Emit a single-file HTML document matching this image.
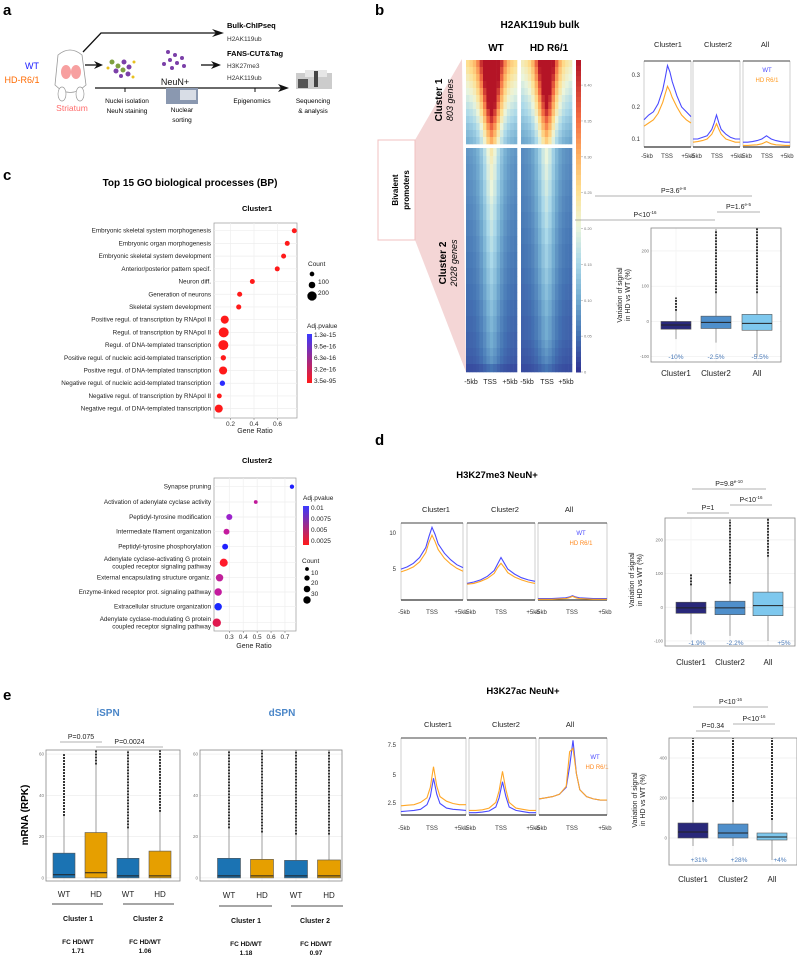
<!DOCTYPE html>
<html><head><meta charset="utf-8">
<style>
html,body{margin:0;padding:0;background:#fff;}
svg{display:block;font-family:"Liberation Sans",sans-serif;}
.pl{font-size:15px;font-weight:bold;}
.t7{font-size:7px;fill:#222;}
.go{font-size:6.3px;fill:#222;text-anchor:end;}
.tk{font-size:5px;fill:#666;}
</style></head>
<body>
<svg id="fig" width="797" height="958" viewBox="0 0 797 958">
<text class="pl" x="3" y="15">a</text>
<text class="pl" x="375" y="15">b</text>
<text class="pl" x="3" y="180">c</text>
<text class="pl" x="375" y="445">d</text>
<text class="pl" x="3" y="700">e</text>

<g>
<text x="32" y="69" font-size="9" fill="#1a1aff" text-anchor="middle">WT</text>
<text x="22" y="83" font-size="9" fill="#ff6a00" text-anchor="middle">HD-R6/1</text>
<g>
<path d="M58 55 Q70 45 82 55 L86 85 Q70 100 55 85 Z" fill="#fff" stroke="#999" stroke-width="0.8"/>
<ellipse cx="62" cy="94" rx="4" ry="7" fill="#fff" stroke="#999" stroke-width="0.7"/>
<ellipse cx="80" cy="94" rx="4" ry="7" fill="#fff" stroke="#999" stroke-width="0.7"/>
<ellipse cx="66" cy="72" rx="5" ry="7" fill="#f7a0a0"/>
<ellipse cx="76" cy="72" rx="5" ry="7" fill="#f7a0a0"/>
</g>
<text x="72" y="111" font-size="8.5" fill="#ff6b6b" text-anchor="middle">Striatum</text>
<polyline points="83,52 101,33 220,33" fill="none" stroke="#111" stroke-width="1.3"/>
<path d="M212,29 L224,33 L212,37 L216,33Z" fill="#111"/>
<line x1="85" y1="65" x2="98" y2="65" stroke="#111" stroke-width="1.3"/>
<path d="M94,61 L103,65 L94,69 L97,65Z" fill="#111"/>
<line x1="201" y1="65" x2="215" y2="65" stroke="#111" stroke-width="1.3"/>
<path d="M211,61 L221,65 L211,69 L214,65Z" fill="#111"/>
<line x1="95" y1="88" x2="282" y2="88" stroke="#111" stroke-width="1.2"/>
<path d="M278,84 L289,88 L278,92 L281,88Z" fill="#111"/>
<line x1="125" y1="88" x2="125" y2="92" stroke="#111"/><line x1="255" y1="88" x2="255" y2="92" stroke="#111"/>
<g>
<circle cx="112" cy="62" r="2.5" fill="#7fa040"/><circle cx="118" cy="66" r="2.5" fill="#7fa040"/><circle cx="124" cy="62" r="2.5" fill="#7b3fa8"/>
<circle cx="116" cy="71" r="2.5" fill="#7b3fa8"/><circle cx="123" cy="70" r="2.5" fill="#7fa040"/><circle cx="129" cy="67" r="2.5" fill="#7b3fa8"/>
<circle cx="128" cy="74" r="2.5" fill="#7b3fa8"/><circle cx="121" cy="76" r="2" fill="#7b3fa8"/><circle cx="108" cy="68" r="1.5" fill="#e8c020"/><circle cx="134" cy="62" r="1.5" fill="#e8c020"/><circle cx="133" cy="77" r="1.5" fill="#e8c020"/>
</g>
<g>
<circle cx="168" cy="52" r="2" fill="#7b3fa8"/><circle cx="175" cy="55" r="2" fill="#7b3fa8"/><circle cx="182" cy="58" r="2" fill="#7b3fa8"/><circle cx="170" cy="60" r="2" fill="#7b3fa8"/>
<circle cx="177" cy="63" r="2" fill="#7b3fa8"/><circle cx="184" cy="66" r="2" fill="#7b3fa8"/><circle cx="172" cy="68" r="2" fill="#7b3fa8"/><circle cx="164" cy="64" r="2" fill="#7b3fa8"/>
</g>
<text x="175" y="85" font-size="9" fill="#111" text-anchor="middle">NeuN+</text>
<rect x="166" y="88" width="32" height="16" fill="#8a98b0"/><rect x="180" y="90" width="16" height="10" fill="#d8dde6"/>
<g><rect x="296" y="73" width="36" height="16" fill="#ccc"/><rect x="305" y="70" width="22" height="7" fill="#e6e6e6"/><rect x="298" y="79" width="10" height="9" fill="#555"/><rect x="314" y="71" width="4" height="16" fill="#444"/></g>
<text x="227" y="28" font-size="7.5" font-weight="bold">Bulk-ChIPseq</text>
<text x="227" y="41" font-size="6.5" fill="#333">H2AK119ub</text>
<text x="227" y="56" font-size="7.5" font-weight="bold">FANS-CUT&amp;Tag</text>
<text x="227" y="68" font-size="6.5" fill="#333">H3K27me3</text>
<text x="227" y="80" font-size="6.5" fill="#333">H2AK119ub</text>
<text x="127" y="103" font-size="6.5" text-anchor="middle">Nuclei isolation</text>
<text x="127" y="113" font-size="6.5" text-anchor="middle">NeuN staining</text>
<text x="182" y="112" font-size="6.5" text-anchor="middle">Nuclear</text>
<text x="182" y="122" font-size="6.5" text-anchor="middle">sorting</text>
<text x="252" y="103" font-size="6.5" text-anchor="middle">Epigenomics</text>
<text x="313" y="103" font-size="6.5" text-anchor="middle">Sequencing</text>
<text x="313" y="113" font-size="6.5" text-anchor="middle">&amp; analysis</text>
</g>

<text x="540" y="28" font-size="10" font-weight="bold" text-anchor="middle">H2AK119ub bulk</text>
<text x="496" y="51" font-size="10" font-weight="bold" text-anchor="middle">WT</text>
<text x="549" y="51" font-size="10" font-weight="bold" text-anchor="middle">HD R6/1</text>
<polygon points="415,140 462,59 466,372 415,240" fill="#f4d6d6"/>
<rect x="378" y="140" width="37" height="100" fill="#fff" stroke="#f0c0c0"/>
<text transform="translate(398,190) rotate(-90)" font-size="8" font-weight="bold" text-anchor="middle">Bivalent</text>
<text transform="translate(409,190) rotate(-90)" font-size="8" font-weight="bold" text-anchor="middle">promoters</text>
<text transform="translate(442,100) rotate(-90)" font-size="10" font-weight="bold" text-anchor="middle">Cluster 1</text>
<text transform="translate(453,100) rotate(-90)" font-size="9" font-style="italic" text-anchor="middle">803 genes</text>
<text transform="translate(446,263) rotate(-90)" font-size="10" font-weight="bold" text-anchor="middle">Cluster 2</text>
<text transform="translate(457,263) rotate(-90)" font-size="9" font-style="italic" text-anchor="middle">2028 genes</text>
<g class="t7" font-size="6">
<text x="471" y="384" text-anchor="middle">-5kb</text><text x="490" y="384" text-anchor="middle">TSS</text><text x="510" y="384" text-anchor="middle">+5kb</text>
<text x="527" y="384" text-anchor="middle">-5kb</text><text x="547" y="384" text-anchor="middle">TSS</text><text x="566" y="384" text-anchor="middle">+5kb</text>
</g>
<g font-size="7.5" text-anchor="middle" fill="#222">
<text x="668" y="47">Cluster1</text><text x="718" y="47">Cluster2</text><text x="765" y="47">All</text>
<text x="436" y="512">Cluster1</text><text x="505" y="512">Cluster2</text><text x="569" y="512">All</text>
<text x="438" y="727">Cluster1</text><text x="506" y="727">Cluster2</text><text x="570" y="727">All</text>
</g>
<text x="767" y="72" font-size="6" fill="#4a4aff" text-anchor="middle">WT</text>
<text x="767" y="82" font-size="6" fill="#ff9a20" text-anchor="middle">HD R6/1</text>
<text x="581" y="535" font-size="6" fill="#4a4aff" text-anchor="middle">WT</text>
<text x="581" y="545" font-size="6" fill="#ff8a20" text-anchor="middle">HD R6/1</text>
<text x="595" y="759" font-size="6" fill="#4a4aff" text-anchor="middle">WT</text>
<text x="597" y="769" font-size="6" fill="#ff8a20" text-anchor="middle">HD R6/1</text>
<text x="497" y="478" font-size="9.5" font-weight="bold" text-anchor="middle">H3K27me3 NeuN+</text>
<text x="523" y="694" font-size="9.5" font-weight="bold" text-anchor="middle">H3K27ac NeuN+</text>

<text x="190" y="186" font-size="10" font-weight="bold" text-anchor="middle">Top 15 GO biological processes (BP)</text>
<text x="257" y="211" font-size="7.5" font-weight="bold" text-anchor="middle">Cluster1</text>
<text x="257" y="463" font-size="7.5" font-weight="bold" text-anchor="middle">Cluster2</text>
<text x="255" y="433" font-size="7" text-anchor="middle" fill="#222">Gene Ratio</text>
<text x="254" y="648" font-size="7" text-anchor="middle" fill="#222">Gene Ratio</text>

<text x="108" y="716" font-size="10" font-weight="bold" fill="#4a86c8" text-anchor="middle">iSPN</text>
<text x="282" y="716" font-size="10" font-weight="bold" fill="#4a86c8" text-anchor="middle">dSPN</text>
<text transform="translate(28,815) rotate(-90)" font-size="10" font-weight="bold" text-anchor="middle">mRNA (RPK)</text>
<g font-size="7" font-weight="bold" text-anchor="middle" fill="#111">
<line x1="52" y1="904" x2="103" y2="904" stroke="#111" stroke-width="0.8"/>
<line x1="123" y1="904" x2="174" y2="904" stroke="#111" stroke-width="0.8"/>
<line x1="219" y1="906" x2="272" y2="906" stroke="#111" stroke-width="0.8"/>
<line x1="291" y1="906" x2="343" y2="906" stroke="#111" stroke-width="0.8"/>
<text x="78" y="921">Cluster 1</text><text x="148" y="921">Cluster 2</text>
<text x="246" y="923">Cluster 1</text><text x="315" y="923">Cluster 2</text>
<text x="78" y="944" font-size="6.5">FC HD/WT</text><text x="78" y="953" font-size="6.5">1.71</text>
<text x="145" y="944" font-size="6.5">FC HD/WT</text><text x="145" y="953" font-size="6.5">1.06</text>
<text x="246" y="946" font-size="6.5">FC HD/WT</text><text x="246" y="955" font-size="6.5">1.18</text>
<text x="316" y="946" font-size="6.5">FC HD/WT</text><text x="316" y="955" font-size="6.5">0.97</text>
</g>
</svg>

<script>
// ===== DATA =====
const profileX = [-5,-4,-3,-2,-1,-0.5,0,0.5,1,2,3,4,5];
const h2aC1WT = [0.16,0.175,0.185,0.21,0.255,0.29,0.33,0.31,0.28,0.235,0.2,0.185,0.17];
const h2aC1HD = [0.14,0.15,0.16,0.18,0.215,0.24,0.265,0.25,0.23,0.2,0.175,0.16,0.15];
const h2aC2WT = [0.1,0.1,0.105,0.11,0.13,0.15,0.175,0.15,0.13,0.115,0.105,0.1,0.1];
const h2aC2HD = [0.09,0.092,0.095,0.1,0.115,0.13,0.148,0.13,0.115,0.1,0.095,0.09,0.09];
const h2aAllWT = [0.09,0.09,0.092,0.095,0.1,0.105,0.11,0.105,0.1,0.095,0.092,0.09,0.09];
const h2aAllHD = [0.08,0.08,0.081,0.082,0.085,0.088,0.092,0.088,0.085,0.082,0.081,0.08,0.08];
const me3C1WT = [5.0,5.3,5.8,6.6,8.0,9.5,10.8,9.8,8.5,7.2,6.3,5.6,5.2];
const me3C1HD = [4.6,4.9,5.3,6.0,7.3,8.7,9.7,8.8,7.7,6.5,5.7,5.1,4.7];
const me3C2WT = [3.0,3.2,3.5,4.0,4.8,5.7,6.6,5.8,5.0,4.3,3.8,3.5,3.3];
const me3C2HD = [2.9,3.0,3.3,3.7,4.4,5.2,5.8,5.2,4.5,3.9,3.5,3.2,3.0];
const me3AllWT = [0.9,0.9,0.9,0.95,1.0,1.1,1.3,1.1,1.0,0.95,0.9,0.9,0.9];
const me3AllHD = [0.8,0.8,0.8,0.85,0.9,1.0,1.2,1.0,0.9,0.85,0.8,0.8,0.8];
const acC1WT = [1.7,1.75,1.8,1.9,2.3,3.0,4.6,3.2,2.4,2.0,1.9,1.85,1.8];
const acC1HD = [2.2,2.25,2.3,2.5,2.9,3.8,5.6,3.9,3.0,2.6,2.4,2.3,2.3];
const acC2WT = [1.6,1.6,1.65,1.75,2.1,2.9,4.3,3.0,2.1,1.8,1.7,1.6,1.6];
const acC2HD = [1.8,1.8,1.85,2.0,2.5,3.5,5.2,3.6,2.5,2.0,1.9,1.8,1.8];
const acAllWT = [2.8,2.9,3.0,3.2,3.8,5.6,7.9,5.0,3.6,3.0,2.8,2.7,2.7];
const acAllHD = [2.8,2.9,3.0,3.2,3.9,6.9,7.2,5.0,3.6,3.0,2.8,2.7,2.7];

// heatmap
const hmColShape = [0.35,0.37,0.4,0.46,0.56,0.7,0.88,1,0.88,0.7,0.56,0.46,0.4,0.37,0.35];
const hmWTc1 = [0.72,0.68,0.64,0.6,0.56,0.52,0.48,0.44,0.4,0.36,0.33,0.3];
const hmHDc1 = [0.64,0.6,0.57,0.53,0.5,0.46,0.43,0.4,0.36,0.33,0.3,0.27];
const hmWTc2 = [0.23,0.22,0.21,0.21,0.2,0.2,0.19,0.18,0.18,0.17,0.17,0.16,0.16,0.15,0.15,0.14,0.14,0.13,0.13,0.12,0.12,0.11,0.11,0.1,0.1,0.09,0.08,0.05];
const hmHDc2 = [0.2,0.2,0.19,0.19,0.18,0.18,0.17,0.17,0.16,0.16,0.15,0.15,0.14,0.14,0.14,0.13,0.13,0.12,0.12,0.11,0.11,0.1,0.1,0.1,0.09,0.08,0.07,0.05];
const cbTicks = [0,0.05,0.10,0.15,0.20,0.25,0.30,0.35,0.40];

const go1Terms = ["Embryonic skeletal system morphogenesis","Embryonic organ morphogenesis","Embryonic skeletal system development","Anterior/posterior pattern specif.","Neuron diff.","Generation of neurons","Skeletal system development","Positive regul. of transcription by RNApol II","Regul. of transcription by RNApol II","Regul. of DNA-templated transcription","Positive regul. of nucleic acid-templated transcription","Positive regul. of DNA-templated transcription","Negative regul. of nucleic acid-templated transcription","Negative regul. of transcription by RNApol II","Negative regul. of DNA-templated transcription"];
const go1Ratio = [0.743,0.683,0.652,0.598,0.386,0.278,0.27,0.151,0.142,0.139,0.139,0.137,0.131,0.105,0.1];
const go1Count = [57,57,57,57,57,60,60,150,230,230,65,150,65,55,150];
const go1Color = ["#ff1a1a","#ff1a1a","#ff1a1a","#ff1a1a","#ff1a1a","#ff1a1a","#ff1a1a","#ff1a1a","#ff1a1a","#ff1a1a","#ff1a1a","#ff1a1a","#2b2bff","#ff1a1a","#ff1a1a"];
const go1Ticks = [0.2,0.4,0.6];
const go2Terms = [["Synapse pruning"],["Activation of adenylate cyclase activity"],["Peptidyl-tyrosine modification"],["Intermediate filament organization"],["Peptidyl-tyrosine phosphorylation"],["Adenylate cyclase-activating G protein","coupled receptor signaling pathway"],["External encapsulating structure organiz."],["Enzyme-linked receptor prot. signaling pathway"],["Extracellular structure organization"],["Adenylate cyclase-modulating G protein","coupled receptor signaling pathway"]];
const go2Ratio = [0.75,0.49,0.30,0.28,0.27,0.26,0.23,0.22,0.22,0.21];
const go2Count = [10,8,20,19,19,35,30,30,30,38];
const go2Color = ["#2020ff","#c0189a","#9b22cc","#c41a9e","#2020ff","#ff1a2a","#c0209a","#c41a9e","#1a28ff","#e01a50"];
const go2Ticks = [0.3,0.4,0.5,0.6,0.7];

const boxBCats = ["Cluster1","Cluster2","All"];
const boxBStats = [[-50,-22,-10,0,30,68],[-60,-20,-2.5,15,80,260],[-100,-25,-5.5,20,80,270]];
const boxBLabels = ["-10%","-2.5%","-5.5%"];
const boxBTicks = [-100,0,100,200];
const boxDStats = [[-80,-18,-2,15,65,100],[-85,-22,-2,18,70,260],[-100,-25,5,45,150,270]];
const boxDLabels = ["-1.9%","-2.2%","+5%"];
const boxDTicks = [-100,0,100,200];
const boxAStats = [[-40,0,30,75,180,500],[-40,0,25,70,180,500],[-110,-10,5,25,90,500]];
const boxALabels = ["+31%","+28%","+4%"];
const boxATicks = [0,200,400];
const eCats = ["WT","HD","WT","HD"];
const eiStats = [[0,0,1.5,12,30,60],[0,0,2.5,22,55,62],[0,0,1,9.5,24,62],[0,0,1,13,32,62]];
const edStats = [[0,0,1,9.5,24,62],[0,0,1,9,22,62],[0,0,1,8.5,21,62],[0,0,1,8.7,21,62]];
const eTicks = [0,20,40,60];

// ===== DRAW =====
const NS='http://www.w3.org/2000/svg';
const svg=document.getElementById('fig');
function mk(tag,attrs,parent){const e=document.createElementNS(NS,tag);for(const k in attrs)e.setAttribute(k,attrs[k]);(parent||svg).appendChild(e);return e;}
function txt(x,y,s,size,fill,anchor,parent){const t=mk('text',{x:x,y:y,'font-size':size,fill:fill,'text-anchor':anchor||'middle'},parent);t.textContent=s;return t;}

const cmap=[[0,[49,54,149]],[0.05,[69,117,180]],[0.1,[116,173,209]],[0.15,[171,217,233]],[0.2,[235,245,220]],[0.25,[254,224,144]],[0.3,[253,174,97]],[0.35,[244,109,67]],[0.43,[180,20,38]]];
function col(v){v=Math.max(0,Math.min(0.43,v));for(let i=1;i<cmap.length;i++){if(v<=cmap[i][0]){const a=cmap[i-1],b=cmap[i],t=(v-a[0])/(b[0]-a[0]);return 'rgb('+a[1].map((c,j)=>Math.round(c+(b[1][j]-c)*t)).join(',')+')';}}return 'rgb(165,0,38)';}

function heatmap(name,x0,x1,rowsTop,rowsBot){
  const g=mk('g',{});
  
  
  const cw=(x1-x0)/hmColShape.length;
  const parts=[[rowsTop,60,144],[rowsBot,148,372]];
  parts.forEach(([rows,y0,y1])=>{
    const rh=(y1-y0)/rows.length;
    rows.forEach((pk,r)=>{hmColShape.forEach((s,c)=>{
      const cell=mk('rect',{x:x0+c*cw,y:y0+r*rh,width:cw+0.3,height:rh+0.3,fill:col(pk*s)},g);
      
      
    });});
  });
}
heatmap('heatmap-wt',466,517,hmWTc1,hmWTc2);
heatmap('heatmap-hd',521,572,hmHDc1,hmHDc2);
(function(){
  const g=mk('g',{});
  
  
  const y0=60,y1=372,vmax=0.435;
  for(let i=0;i<60;i++){const v=vmax*(i/60);mk('rect',{x:576,y:y1-(i+1)*(y1-y0)/60,width:5,height:(y1-y0)/60+0.5,fill:col(v)},g);}
  cbTicks.forEach(t=>{const y=y1-t/vmax*(y1-y0);mk('line',{x1:581,x2:583,y1:y,y2:y,stroke:'#999','stroke-width':0.5},g);txt(584,y+1.5,t===0?'0':t.toFixed(2),4,'#777','start',g);});
})();

function profile(name,x0,x1,y0,y1,ymin,ymax,wt,hd){
  const g=mk('g',{});
  
  
  mk('line',{x1:x0,x2:x0,y1:y0,y2:y1,stroke:'#bbb','stroke-width':0.7},g);
  mk('line',{x1:x1,x2:x1,y1:y0,y2:y1,stroke:'#bbb','stroke-width':0.7},g);
  mk('line',{x1:x0,x2:x1,y1:y0,y2:y0,stroke:'#444','stroke-width':1},g);
  mk('line',{x1:x0,x2:x1,y1:y1,y2:y1,stroke:'#333','stroke-width':1.3},g);
  const xs=v=>x0+(v+5)/10*(x1-x0), ys=v=>y1-(v-ymin)/(ymax-ymin)*(y1-y0);
  [[wt,'#4a4aff','wt'],[hd,'#ffa726','hd']].forEach(([arr,c,n])=>{
    const p=mk('polyline',{points:arr.map((v,i)=>xs(profileX[i]).toFixed(1)+','+ys(v).toFixed(1)).join(' '),fill:'none',stroke:c,'stroke-width':1.1},g);
    
    
  });
  return {xs,ys};
}
profile('profile-h2a-cluster1',644,691,61,147,0.075,0.344,h2aC1WT,h2aC1HD);
profile('profile-h2a-cluster2',693,740,61,147,0.075,0.344,h2aC2WT,h2aC2HD);
profile('profile-h2a-all',743,790,61,147,0.075,0.344,h2aAllWT,h2aAllHD);
[[0.3,75],[0.2,107],[0.1,139]].forEach(([v,y])=>txt(640,y+2,String(v),6,'#333','end'));
[[644,667,691],[693,717,740],[743,767,790]].forEach(a=>{txt(a[0]+3,158,'-5kb',6,'#333');txt(a[1],158,'TSS',6,'#333');txt(a[2]-3,158,'+5kb',6,'#333');});
profile('profile-me3-cluster1',401,463,523,600,0.7,11.4,me3C1WT,me3C1HD);
profile('profile-me3-cluster2',467,535,523,600,0.7,11.4,me3C2WT,me3C2HD);
profile('profile-me3-all',538,607,523,600,0.7,11.4,me3AllWT,me3AllHD);
[[10,533],[5,569]].forEach(([v,y])=>txt(396,y+2,String(v),6,'#333','end'));
profile('profile-ac-cluster1',401,466,738,815,1.4,8.1,acC1WT,acC1HD);
profile('profile-ac-cluster2',469,536,738,815,1.4,8.1,acC2WT,acC2HD);
profile('profile-ac-all',539,607,738,815,1.4,8.1,acAllWT,acAllHD);
[[7.5,745],[5,775],[2.5,803]].forEach(([v,y])=>txt(396,y+2,String(v),6,'#333','end'));
[[401,432,463],[467,501,535],[538,572,607]].forEach(a=>{txt(a[0]+3,614,'-5kb',6,'#333');txt(a[1],614,'TSS',6,'#333');txt(a[2]-2,614,'+5kb',6,'#333');txt(a[0]+3,830,'-5kb',6,'#333');txt(a[1],830,'TSS',6,'#333');txt(a[2]-2,830,'+5kb',6,'#333');});

function boxplot(name,x0,x1,y0,y1,vTop,vBot,stats,centers,w,colors,ticks){
  const g=mk('g',{});
  
  
  const ys=v=>y0+(vTop-v)/(vTop-vBot)*(y1-y0);
  ticks.forEach(t=>{const y=ys(t);mk('line',{x1:x0,x2:x1,y1:y,y2:y,stroke:'#eee','stroke-width':0.7},g);txt(x0-2,y+1.5,String(t),4.5,'#777','end',g);});
  centers.forEach(c=>mk('line',{x1:c,x2:c,y1:y0,y2:y1,stroke:'#f2f2f2','stroke-width':0.7},g));
  stats.forEach((s,i)=>{
    const c=centers[i];
    const [wlo,q1,med,q3,whi,omax]=s;
    if(omax>whi){const l=mk('line',{x1:c,x2:c,y1:ys(whi),y2:ys(Math.min(omax,vTop)),stroke:'#333','stroke-width':2,'stroke-dasharray':'2,1'},g);}
    mk('line',{x1:c,x2:c,y1:ys(wlo),y2:ys(whi),stroke:'#777','stroke-width':0.7},g);
    const b=mk('rect',{x:c-w/2,y:ys(q3),width:w,height:Math.max(1,ys(q1)-ys(q3)),fill:colors[i],stroke:'#555','stroke-width':0.6},g);
    
    
    mk('line',{x1:c-w/2,x2:c+w/2,y1:ys(med),y2:ys(med),stroke:'#222','stroke-width':1},g);
  });
  mk('rect',{x:x0,y:y0,width:x1-x0,height:y1-y0,fill:'none',stroke:'#888','stroke-width':0.8},g);
  return ys;
}
const bc=['#29287a','#4f8fcb','#7ec8ee'];
boxplot('boxplot-h2a',651,781,228,362,265,-115,boxBStats,[676,716,757],30,bc,boxBTicks);
boxBLabels.forEach((l,i)=>txt([676,716,760][i],359,l,6.5,'#4a7ab8'));
boxplot('boxplot-me3',665,795,518,646,265,-115,boxDStats,[691,730,768],30,bc,boxDTicks);
boxDLabels.forEach((l,i)=>txt([697,735,784][i],645,l,6.5,'#4a7ab8'));
boxplot('boxplot-ac',669,797,738,865,500,-135,boxAStats,[693,733,772],30,bc,boxATicks);
boxALabels.forEach((l,i)=>txt([699,739,780][i],862,l,6.5,'#4a7ab8'));
[[376,[676,716,757]],[665,[691,730,768]],[882,[693,733,772]]].forEach(([y,cs])=>boxBCats.forEach((c,i)=>txt(cs[i],y,c,8,'#222')));
function ylab(x,y){const t=mk('text',{transform:'translate('+x+','+y+') rotate(-90)','font-size':7,'text-anchor':'middle',fill:'#222'});t.textContent='Variation of signal';const t2=mk('text',{transform:'translate('+(x+8)+','+y+') rotate(-90)','font-size':7,'text-anchor':'middle',fill:'#222'});t2.textContent='in HD vs WT (%)';}
ylab(622,295);ylab(634,580);ylab(637,800);
function pbar(x1,x2,y,label,sup){mk('line',{x1:x1,x2:x2,y1:y,y2:y,stroke:'#999','stroke-width':0.8});const t=txt((x1+x2)/2,y-3,label,7,'#222');if(sup){const s=mk('tspan',{'font-size':4.5,dy:-3},t);s.textContent=sup;}}
pbar(595,752,196,'P=3.6','e-8');pbar(717,760,212,'P=1.6','e-5');pbar(575,715,220,'P<10','-16');
pbar(692,766,489,'P=9.8','e-10');pbar(730,772,505,'P<10','-16');pbar(687,729,513,'P=1');
pbar(693,768,707,'P<10','-16');pbar(733,775,724,'P<10','-16');pbar(696,730,731,'P=0.34');
pbar(60,102,742,'P=0.075');pbar(96,163,747,'P=0.0024');

const ec=['#1b73b3','#e69f00','#1b73b3','#e69f00'];
boxplot('boxplot-ispn',46,180,750,881,62,-1.5,eiStats,[64,96,128,160],22,ec,eTicks);
boxplot('boxplot-dspn',200,342,750,881,62,-1.5,edStats,[229,262,296,329],23,ec,eTicks);
eCats.forEach((c,i)=>{txt([64,96,128,160][i],897,c,8,'#222');txt([229,262,296,329][i],898,c,8,'#222');});

function goPlot(name,x0,x1,y0,y1,rowsY,terms,ratio,count,colors,xs,ticks,k){
  const g=mk('g',{});
  
  
  mk('rect',{x:x0,y:y0,width:x1-x0,height:y1-y0,fill:'#fff',stroke:'#999','stroke-width':0.7},g);
  ticks.forEach(t=>{const x=xs(t);mk('line',{x1:x,x2:x,y1:y0,y2:y1,stroke:'#eee','stroke-width':0.7},g);mk('line',{x1:x,x2:x,y1:y1,y2:y1+2,stroke:'#666','stroke-width':0.5},g);txt(x,y1+8,String(t),6.5,'#333','middle',g);});
  rowsY.forEach(y=>mk('line',{x1:x0,x2:x1,y1:y,y2:y,stroke:'#eee','stroke-width':0.7},g));
  terms.forEach((tm,i)=>{
    const y=rowsY[i];
    const lines=Array.isArray(tm)?tm:[tm];
    lines.forEach((l,j)=>{const t=mk('text',{class:'go',x:x0-3,y:y+2+(j-(lines.length-1)/2)*7.5},g);t.textContent=l;});
    const d=mk('circle',{cx:xs(ratio[i]),cy:y,r:k*Math.sqrt(count[i]),fill:colors[i]},g);
    
    
  });
}
const rows1=[];for(let i=0;i<15;i++)rows1.push(230.7+i*12.71);
goPlot('go-dotplot-cluster1',214,297,223,418,rows1,go1Terms,go1Ratio,go1Count,go1Color,v=>207+117.5*v,go1Ticks,0.33);
const rows2=[486.7,502,517,531.7,546.7,562.7,577.7,592,606.7,622.7];
goPlot('go-dotplot-cluster2',214,296,478,631,rows2,go2Terms,go2Ratio,go2Count,go2Color,v=>229.3+(v-0.3)*139.2,go2Ticks,0.68);

(function(){
  const g=mk('g',{});
  
  
  txt(308,266,'Count',6.5,'#222','start',g);
  [[50,274],[100,285],[200,296]].forEach(([c,y])=>{mk('circle',{cx:312,cy:y,r:0.33*Math.sqrt(c),fill:'#000'},g);if(c>50)txt(318,y-1,String(c),6.5,'#222','start',g);});
  txt(307,328,'Adj.pvalue',6.5,'#222','start',g);
  const lg=mk('linearGradient',{id:'gp1',x1:0,y1:0,x2:0,y2:1},g);mk('stop',{offset:0,'stop-color':'#3a3aff'},lg);mk('stop',{offset:1,'stop-color':'#ff1a1a'},lg);
  mk('rect',{x:307,y:334,width:5,height:49,fill:'url(#gp1)'},g);
  ['1.3e-15','9.5e-16','6.3e-16','3.2e-16','3.5e-95'].forEach((s,i)=>txt(314,337+i*11.5,s,6.5,'#222','start',g));
  const g2=mk('g',{});
  
  
  txt(303,500,'Adj.pvalue',6.5,'#222','start',g2);
  const lg2=mk('linearGradient',{id:'gp2',x1:0,y1:0,x2:0,y2:1},g2);mk('stop',{offset:0,'stop-color':'#3a3aff'},lg2);mk('stop',{offset:1,'stop-color':'#ff1a1a'},lg2);
  mk('rect',{x:303,y:506,width:6,height:39,fill:'url(#gp2)'},g2);
  ['0.01','0.0075','0.005','0.0025'].forEach((s,i)=>txt(311,510+i*11,s,6.5,'#222','start',g2));
  txt(302,563,'Count',6.5,'#222','start',g2);
  [[10,569],[20,578],[30,589],[38,600]].forEach(([c,y])=>{mk('circle',{cx:307,cy:y,r:0.6*Math.sqrt(c),fill:'#000'},g2);});
  [['10',575],['20',585],['30',596]].forEach(([s,y])=>txt(311,y,s,6.5,'#222','start',g2));
})();
</script>
</body></html>
